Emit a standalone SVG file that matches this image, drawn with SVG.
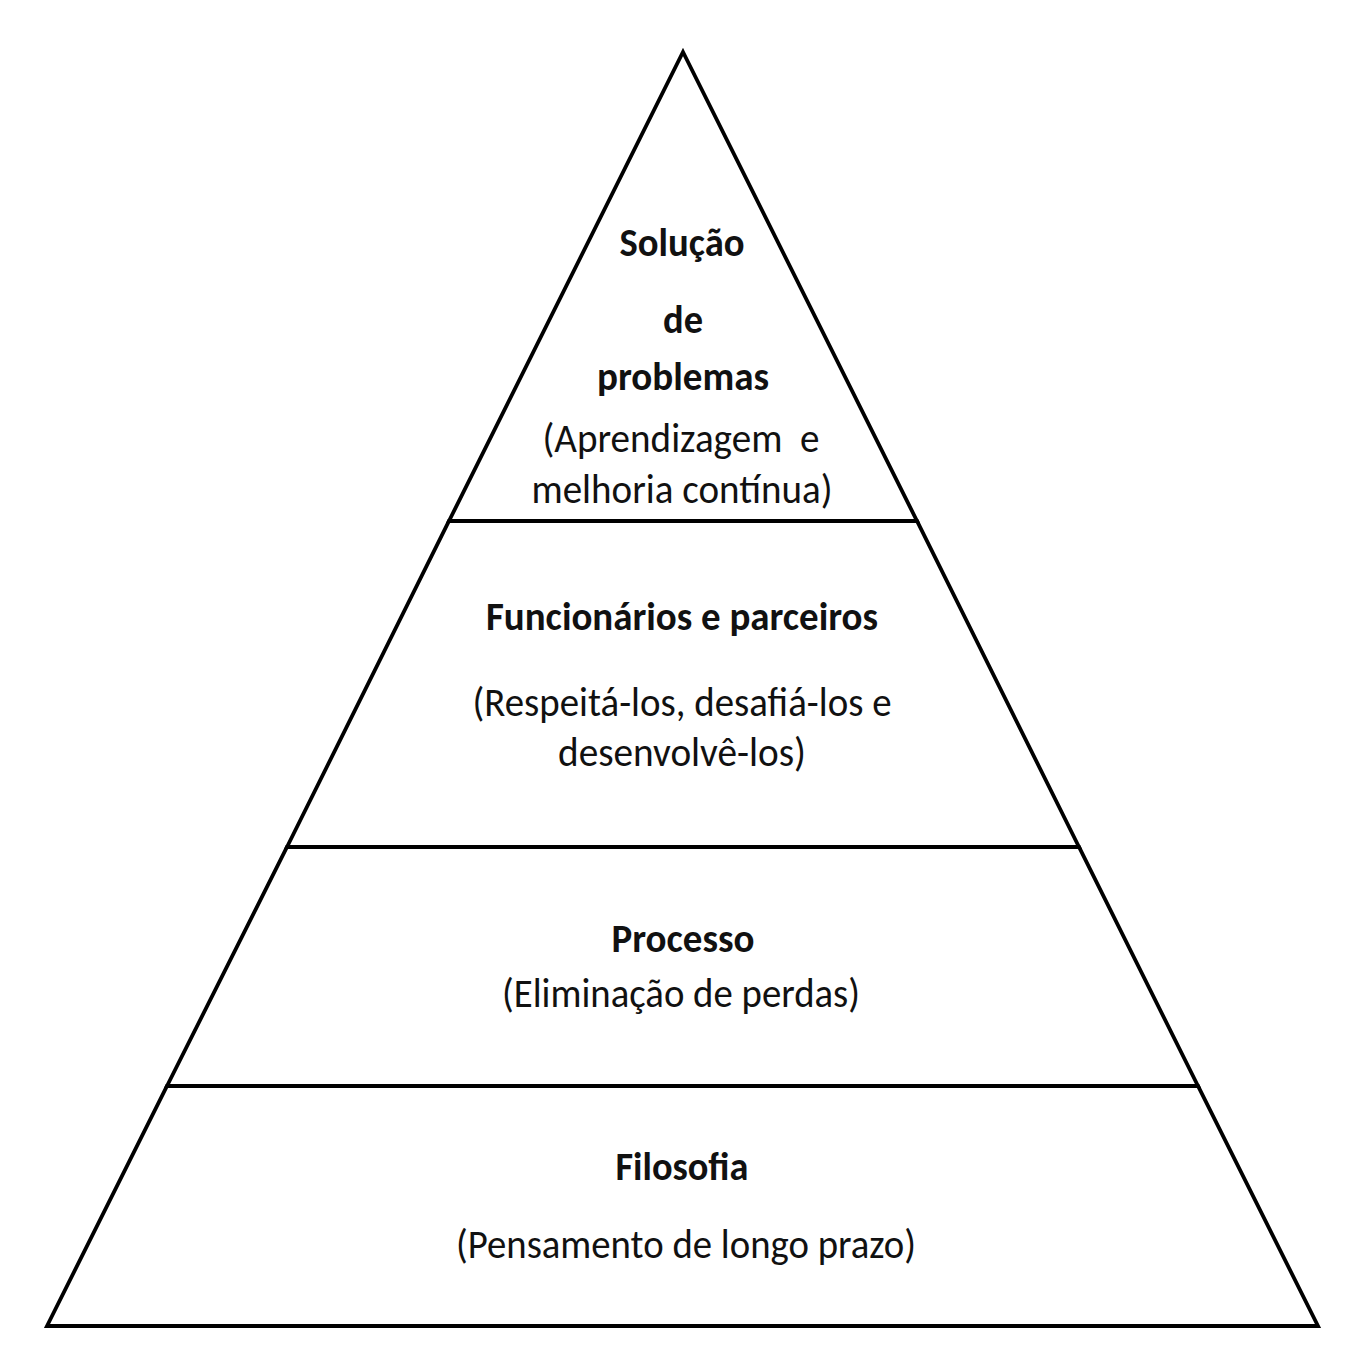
<svg xmlns="http://www.w3.org/2000/svg" width="1360" height="1350" viewBox="0 0 1360 1350">
<style>
.tier{fill:#fff;stroke:#000;stroke-width:3.8;stroke-linejoin:miter}
.b{font-family:Carlito,Lato,"Liberation Sans",sans-serif;font-weight:bold;font-size:40px;fill:#111;text-anchor:middle}
.r{font-family:Carlito,Lato,"Liberation Sans",sans-serif;font-size:42px;fill:#111;text-anchor:middle}
</style>
<rect width="1360" height="1350" fill="#fff"/>
<g id="tier-filosofia">
<polygon class="tier" points="167,1086 1198,1086 1318,1326 47,1326"/>
<text class="b" x="682" y="1180" textLength="133" lengthAdjust="spacingAndGlyphs">Filosofia</text>
<text class="r" x="686" y="1258" textLength="460" lengthAdjust="spacingAndGlyphs">(Pensamento de longo prazo)</text>
</g>
<g id="tier-processo">
<polygon class="tier" points="287,847 1079,847 1198,1086 167,1086"/>
<text class="b" x="683" y="952" textLength="143" lengthAdjust="spacingAndGlyphs">Processo</text>
<text class="r" x="681" y="1007" textLength="358" lengthAdjust="spacingAndGlyphs">(Eliminação de perdas)</text>
</g>
<g id="tier-funcionarios">
<polygon class="tier" points="449,521 917,521 1079,847 287,847"/>
<text class="b" x="682" y="630" textLength="392" lengthAdjust="spacingAndGlyphs">Funcionários e parceiros</text>
<text class="r" x="682" y="716" textLength="419" lengthAdjust="spacingAndGlyphs">(Respeitá-los, desafiá-los e</text>
<text class="r" x="682" y="766" textLength="248" lengthAdjust="spacingAndGlyphs">desenvolvê-los)</text>
</g>
<g id="tier-solucao">
<polygon class="tier" points="683,52 917,521 449,521"/>
<text class="b" x="682" y="256" textLength="125" lengthAdjust="spacingAndGlyphs">Solução</text>
<text class="b" x="683" y="333" textLength="40" lengthAdjust="spacingAndGlyphs">de</text>
<text class="b" x="683" y="390" textLength="172" lengthAdjust="spacingAndGlyphs">problemas</text>
<text class="r" x="681" y="452" textLength="277" lengthAdjust="spacingAndGlyphs" xml:space="preserve">(Aprendizagem  e</text>
<text class="r" x="682" y="503" textLength="301" lengthAdjust="spacingAndGlyphs">melhoria contínua)</text>
</g>
</svg>
